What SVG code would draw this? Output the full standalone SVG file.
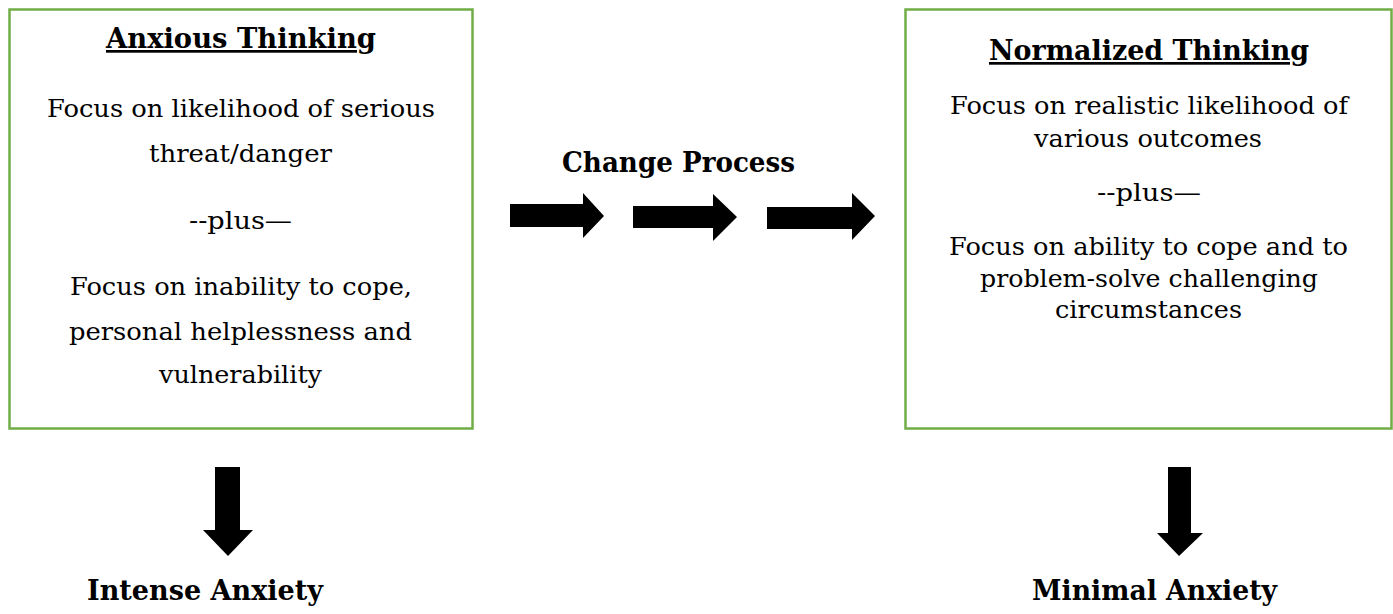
<svg xmlns="http://www.w3.org/2000/svg" width="1393" height="614" viewBox="0 0 1393 614">
<style>
.box{fill:#fff;stroke:#70AD47;stroke-width:2.5}
.t{font-family:"DejaVu Serif","Liberation Serif",serif;font-size:24px;fill:#000;text-anchor:middle}
.h{font-family:"DejaVu Serif","Liberation Serif",serif;font-size:27px;font-weight:bold;fill:#000;text-anchor:middle}
.u{text-decoration:underline}
.arr{fill:#000}
</style>
<rect width="1393" height="614" fill="#fff"/>
<g id="anxious-thinking">
<rect class="box" x="9.5" y="9.5" width="463" height="419"/>
<text class="h u" x="241" y="48" textLength="270" lengthAdjust="spacingAndGlyphs">Anxious Thinking</text>
<text class="t" x="241" y="117" textLength="388" lengthAdjust="spacingAndGlyphs">Focus on likelihood of serious</text>
<text class="t" x="240.5" y="162" textLength="183" lengthAdjust="spacingAndGlyphs">threat/danger</text>
<text class="t" x="240.5" y="229" textLength="103" lengthAdjust="spacingAndGlyphs">--plus—</text>
<text class="t" x="241" y="295" textLength="342" lengthAdjust="spacingAndGlyphs">Focus on inability to cope,</text>
<text class="t" x="240.5" y="340" textLength="343" lengthAdjust="spacingAndGlyphs">personal helplessness and</text>
<text class="t" x="240.5" y="383" textLength="163" lengthAdjust="spacingAndGlyphs">vulnerability</text>
</g>
<g id="normalized-thinking">
<rect class="box" x="905.5" y="9.5" width="486" height="419"/>
<text class="h u" x="1149" y="60" textLength="320" lengthAdjust="spacingAndGlyphs">Normalized Thinking</text>
<text class="t" x="1149" y="114" textLength="398" lengthAdjust="spacingAndGlyphs">Focus on realistic likelihood of</text>
<text class="t" x="1148" y="147" textLength="228" lengthAdjust="spacingAndGlyphs">various outcomes</text>
<text class="t" x="1149" y="201" textLength="104" lengthAdjust="spacingAndGlyphs">--plus—</text>
<text class="t" x="1148.5" y="255" textLength="399" lengthAdjust="spacingAndGlyphs">Focus on ability to cope and to</text>
<text class="t" x="1149" y="287" textLength="338" lengthAdjust="spacingAndGlyphs">problem-solve challenging</text>
<text class="t" x="1148.5" y="318" textLength="187" lengthAdjust="spacingAndGlyphs">circumstances</text>
</g>
<g id="change-process">
<text class="h" x="678.5" y="172" textLength="233" lengthAdjust="spacingAndGlyphs">Change Process</text>
</g>
<g id="intense-anxiety">
<text class="h" x="205" y="600" textLength="236" lengthAdjust="spacingAndGlyphs">Intense Anxiety</text>
</g>
<g id="minimal-anxiety">
<text class="h" x="1154.5" y="600" textLength="245" lengthAdjust="spacingAndGlyphs">Minimal Anxiety</text>
</g>
<g id="connectors">
<polygon class="arr" points="510,204 583,204 583,193 604,216 583,238 583,227 510,227"/>
<polygon class="arr" points="633,206 713,206 713,194 737,217 713,241 713,228 633,228"/>
<polygon class="arr" points="767,207 852,207 852,193 875,216 852,240 852,229 767,229"/>
<polygon class="arr" points="215,467 240,467 240,530 253,530 228,556 203,530 215,530"/>
<polygon class="arr" points="1168,467 1191,467 1191,533 1203,533 1179,556 1157,533 1168,533"/>
</g>
</svg>
